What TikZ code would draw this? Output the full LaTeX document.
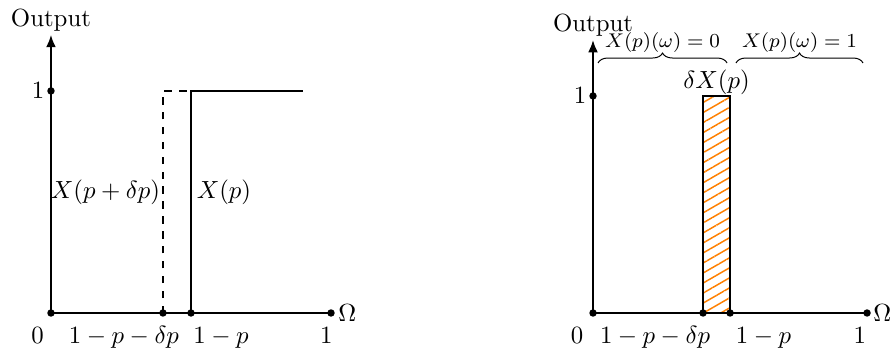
\documentclass[tikz,border=0pt]{standalone}
\usepackage{amsmath,amssymb}
\usepackage{tikz}
\usetikzlibrary{positioning,arrows.meta,decorations.pathreplacing,patterns.meta}

\begin{document}
\begin{tikzpicture}[
		axis/.style={thick, -{Latex[length=5pt,width=4pt]}},
		plain/.style={thick},
		dot/.style={circle, fill=black, inner sep=0pt, minimum size=3pt},
		tick/.style={anchor=base, inner sep=0pt},
		hatch/.style={
				draw=black,
				semithick,
				pattern={Lines[angle=30, distance=3.5pt, line width=0.6pt]},
				pattern color=orange
			},
		curly/.style={decorate, decoration={brace, amplitude=4pt}, thin},
		bracelabel/.style={above, yshift=4pt, inner sep=0pt, font=\footnotesize}
	]
	\useasboundingbox (-0.722,-0.496) rectangle (11.94,4.433);

	% Left panel: the two step functions
	\node[dot] (l0) at (0,0) {};
	\node[dot] (la) at (1.586,0) {};
	\node[dot] (lb) at (1.983,0) {};
	\node[dot] (l1) at (3.966,0) {};
	\node[dot] (ly) at (0,3.145) {};
	\coordinate (ltop) at (0,3.94);
	\coordinate (la1) at (1.586,3.145);
	\coordinate (lb1) at (1.983,3.145);
	\coordinate (lend) at (3.57,3.145);

	\draw[axis] (l0.center) -- (ltop) node[above, inner sep=1pt] (lout) {Output};
	\draw[plain] (l0.center) -- (l1.center);
	\draw[semithick, dashed] (la.center) -- (la1) -- (lb1);
	\draw[plain] (lb.center) -- (lb1) -- (lend);

	\node[left, inner sep=2.5pt] (lylab) at (ly.center) {$1$};
	\node[anchor=west, inner sep=0pt] (lom) at ([xshift=2.8pt]l1.center) {$\Omega$};
	\node (lxd) at (0.772,1.714) {$X(p+\delta p)$};
	\node (lx) at (2.45,1.714) {$X(p)$};

	\node[tick] (lt0) at (-0.19,-0.425) {$0$};
	\node[tick] (lta) at (1.034,-0.425) {$1-p-\delta p$};
	\node[tick] (ltb) at (2.408,-0.425) {$1-p$};
	\node[tick] (lt1) at (3.90,-0.425) {$1$};

	% Right panel: the difference delta X(p)
	\begin{scope}[xshift=7.677cm]
		\coordinate (r0) at (0,0);
		\coordinate (ra) at (1.558,0);
		\coordinate (rtop) at (0,3.867);
		\coordinate (rc) at (1.941,3.074);
		\draw[hatch] (ra) rectangle (rc);
		\node[above, inner sep=0.5pt] (rdelta) at (1.75,3.074) {$\delta X(p)$};

		\node[dot] (rd0) at (r0) {};
		\node[dot] (rda) at (ra) {};
		\node[dot] (rdb) at (1.941,0) {};
		\node[dot] (rd1) at (3.881,0) {};
		\node[dot] (ry) at (0,3.074) {};

		\draw[axis] (rd0.center) -- (rtop) node[above, inner sep=1pt] (rout) {Output};
		\draw[plain] (rd0.center) -- (rd1.center);

		\node[left, inner sep=2.5pt] (rylab) at (ry.center) {$1$};
		\node[anchor=west, inner sep=0pt] (rom) at ([xshift=2.4pt]rd1.center) {$\Omega$};

		% braces over the two parts of Omega
		\coordinate (rb1s) at (0.071,3.541);
		\coordinate (rb1e) at (1.898,3.541);
		\coordinate (rb2s) at (2.025,3.541);
		\coordinate (rb2e) at (3.824,3.541);
		\draw[curly] (rb1s) -- (rb1e) node[midway, bracelabel] (rzero) {$X(p)(\omega)=0$};
		\draw[curly] (rb2s) -- (rb2e) node[midway, bracelabel] (rone) {$X(p)(\omega)=1$};

		\node[tick] (rt0) at (-0.227,-0.425) {$0$};
		\node[tick] (rta) at (0.878,-0.425) {$1-p-\delta p$};
		\node[tick] (rtb) at (2.415,-0.425) {$1-p$};
		\node[tick] (rt1) at (3.78,-0.425) {$1$};
	\end{scope}
\end{tikzpicture}
\end{document}
